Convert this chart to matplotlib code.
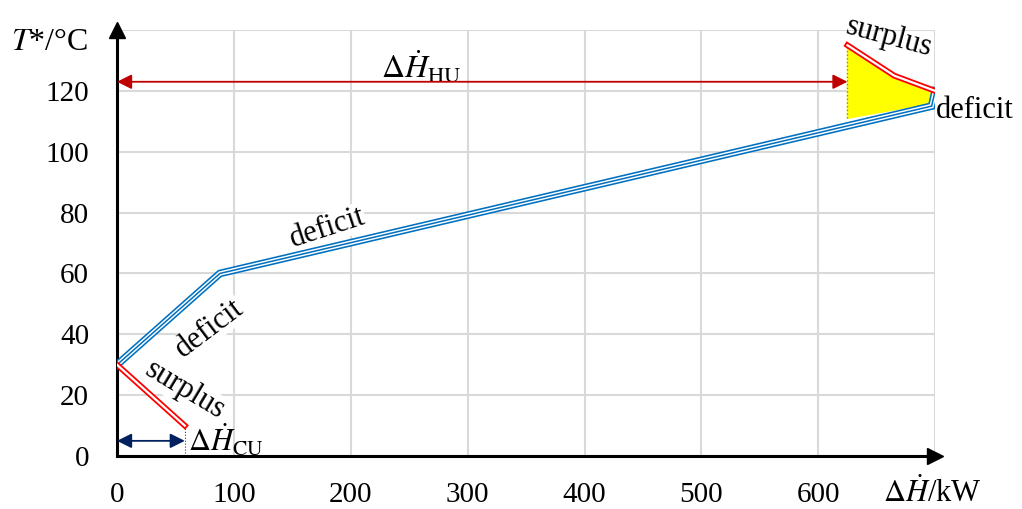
import matplotlib.pyplot as plt

plt.rcParams['font.family'] = ['Liberation Serif', 'DejaVu Serif']
plt.rcParams['mathtext.fontset'] = 'stix'

# grand composite curve, deficit part (blue)
deficit_h = [0, 88, 697, 700]
deficit_t = [30, 60, 115, 120]
# surplus parts (red)
surplus_top_h = [625, 665, 700]
surplus_top_t = [135, 125, 120]
surplus_bot_h = [0, 58]
surplus_bot_t = [30, 10]
# pocket (yellow)
pocket_h = [625, 665, 700, 697, 625]
pocket_t = [135, 125, 120, 116, 111]
# utilities
qhu = 625
qcu = 58
hu_level = 123
cu_level = 5

xticks = [0, 100, 200, 300, 400, 500, 600]
yticks = [0, 20, 40, 60, 80, 100, 120]

fig = plt.figure(figsize=(10.22, 5.09), dpi=100)
ax = fig.add_axes([0.1145, 0.104, 0.8005, 0.837])
ax.set_xlim(0, 700)
ax.set_ylim(0, 140)

ax.set_xticks(list(range(0, 701, 100)))
ax.set_yticks(list(range(0, 141, 20)))
ax.set_xticklabels([str(v) for v in xticks] + [''], fontsize=21)
ax.set_yticklabels([str(v) for v in yticks] + [''], fontsize=21)
ax.tick_params(axis='x', length=0, pad=19)
ax.tick_params(axis='y', length=0, pad=20)
ax.grid(True, color='#d9d9d9', lw=1.5)
ax.set_axisbelow(True)
for s in ['top', 'right']:
    ax.spines[s].set_visible(False)
for s in ['left', 'bottom']:
    ax.spines[s].set_linewidth(2.2)
ax.plot(1, 0, '>', color='black', ms=12, transform=ax.transAxes, clip_on=False)
ax.plot(0, 1, '^', color='black', ms=11, transform=ax.transAxes, clip_on=False)

# pocket fill
ax.fill(pocket_h, pocket_t, color='#ffff00', zorder=2)
ax.plot([qhu, qhu], [111, 135], color='#7f7f7f', lw=1, ls=':', zorder=2)
ax.plot([qcu, qcu], [0, 10], color='#404040', lw=0.8, ls=':', zorder=2)

# blue triple line
ax.plot(deficit_h, deficit_t, color='#0070c0', lw=5.5, zorder=3, solid_joinstyle='miter')
ax.plot(deficit_h, deficit_t, color='white', lw=3.2, zorder=3, solid_joinstyle='miter')
ax.plot(deficit_h, deficit_t, color='#0070c0', lw=1.1, zorder=3, solid_joinstyle='miter')
# red double lines
for hh, tt in [(surplus_top_h, surplus_top_t), (surplus_bot_h, surplus_bot_t)]:
    ax.plot(hh, tt, color='#ff0000', lw=4.2, zorder=4, solid_joinstyle='miter')
    ax.plot(hh, tt, color='white', lw=1.6, zorder=4, solid_joinstyle='miter')

# utility arrows
ax.annotate('', xy=(qhu, hu_level), xytext=(0, hu_level),
            arrowprops=dict(arrowstyle='<|-|>', color='#c00000', lw=1.3,
                            mutation_scale=22, shrinkA=0, shrinkB=0), zorder=5)
ax.annotate('', xy=(qcu, cu_level), xytext=(0, cu_level),
            arrowprops=dict(arrowstyle='<|-|>', color='#002060', lw=1.3,
                            mutation_scale=22, shrinkA=0, shrinkB=0), zorder=5)

ax.text(260, 127.5, r'$\Delta\dot{H}_{\rm HU}$', fontsize=23, ha='center', va='center')
ax.text(61, 5, r'$\Delta\dot{H}_{\rm CU}$', fontsize=22, ha='left', va='center')

bb = dict(facecolor='white', edgecolor='none', pad=0.5)
ax.text(661, 137.5, 'surplus', fontsize=22, rotation=-15, ha='center', va='center',
        rotation_mode='anchor')
ax.text(701, 113.5, 'deficit', fontsize=22, ha='left', va='center')
ax.text(180, 75, 'deficit', fontsize=22, rotation=18, ha='center', va='center',
        rotation_mode='anchor', bbox=bb, zorder=2.5)
ax.text(79, 42, 'deficit', fontsize=22, rotation=37, ha='center', va='center',
        rotation_mode='anchor', bbox=bb, zorder=2.5)
ax.text(58, 21.5, 'surplus', fontsize=22, rotation=-31, ha='center', va='center',
        rotation_mode='anchor', bbox=bb, zorder=2.5)

# axis titles
fig.text(0.086, 0.917, r'$T$*/°C', fontsize=23, ha='right', va='center')
fig.text(0.912, 0.031, r'$\Delta\dot{H}$/kW', fontsize=22, ha='center', va='center')

fig.savefig('out.png', dpi=100)
